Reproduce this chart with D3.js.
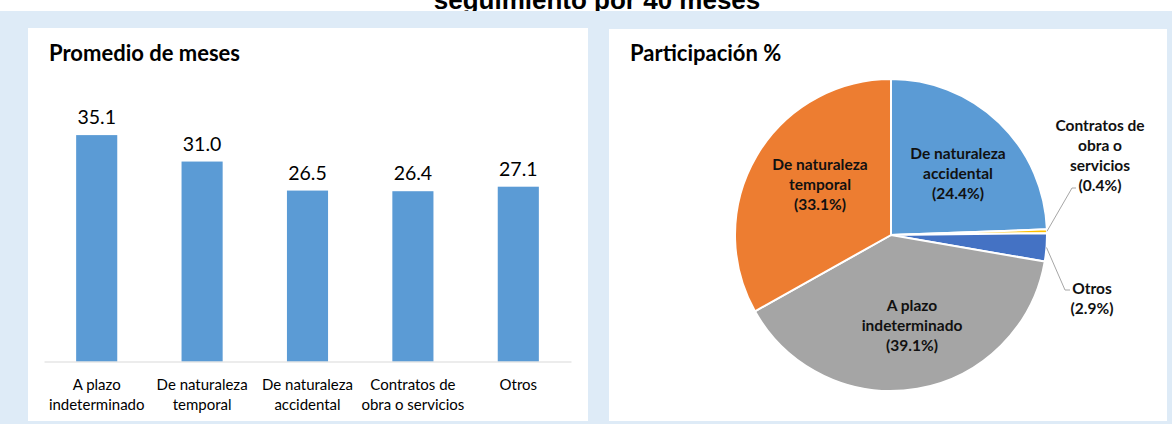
<!DOCTYPE html>
<html>
<head>
<meta charset="utf-8">
<script src="https://cdn.jsdelivr.net/npm/d3@7"></script>
<style>
  html, body { margin: 0; padding: 0; background: #fff; }
  svg { display: block; }
  text { font-family: Lato, "Open Sans", sans-serif; fill: #000; }
</style>
</head>
<body>
<div id="chart"></div>
<script>
// ---- data ----
const categories = ['A plazo indeterminado', 'De naturaleza temporal', 'De naturaleza accidental', 'Contratos de obra o servicios', 'Otros']
const catLines = [['A plazo', 'indeterminado'], ['De naturaleza', 'temporal'], ['De naturaleza', 'accidental'], ['Contratos de', 'obra o servicios'], ['Otros']]
const meanMonths = [35.1, 31.0, 26.5, 26.4, 27.1]
const sharePct = [39.1, 33.1, 24.4, 0.4, 2.9]
const pieLines = [['A plazo', 'indeterminado'], ['De naturaleza', 'temporal'], ['De naturaleza', 'accidental'], ['Contratos de', 'obra o', 'servicios'], ['Otros']]
// slices go clockwise from 12 o'clock in this order (indexes into categories)
const pieOrder = [2, 3, 4, 0, 1]
const pieColors = ['#a5a5a5', '#ed7d31', '#5b9bd5', '#ffc000', '#4472c4']

const W = 1172, H = 424
const svg = d3.select('#chart').append('svg').attr('width', W).attr('height', H)

// cut-off figure title, partly hidden by the blue frame
svg.append('text')
    .attr('x', 597).attr('y', 9)
    .attr('text-anchor', 'middle')
    .style('font-family', '"Liberation Sans", Arial, sans-serif')
    .style('font-weight', 'bold')
    .style('font-size', '26px')
    .text('seguimiento por 40 meses')

svg.append('rect').attr('x', 0).attr('y', 11).attr('width', W).attr('height', H - 11).attr('fill', '#deebf7')
svg.append('rect').attr('x', 28).attr('y', 28).attr('width', 560).attr('height', 393).attr('fill', '#fff')
svg.append('rect').attr('x', 609).attr('y', 29).attr('width', 558).attr('height', 392).attr('fill', '#fff')

// ---------- bar chart ----------
let bar = svg.append('g')
bar.append('text')
    .attr('x', 49).attr('y', 61)
    .style('font-weight', 'bold').style('font-size', '22px')
    .text('Promedio de meses')

let x = d3.scaleBand()
    .domain(categories)
    .range([44, 571])
    .paddingInner(0.61)
    .paddingOuter(0.305)

let y = d3.scaleLinear()
    .domain([0, 40])
    .range([361.5, 103.5])

bar.selectAll('rect.bar')
    .data(meanMonths)
    .enter()
    .append('rect')
    .attr('class', 'bar')
    .attr('x', (d, i) => x(categories[i]))
    .attr('y', d => y(d))
    .attr('width', x.bandwidth())
    .attr('height', d => y(0) - y(d))
    .attr('fill', '#5b9bd5')

bar.selectAll('text.val')
    .data(meanMonths)
    .enter()
    .append('text')
    .attr('class', 'val')
    .attr('x', (d, i) => x(categories[i]) + x.bandwidth() / 2)
    .attr('y', d => y(d) - 11)
    .attr('text-anchor', 'middle')
    .style('font-size', '19.5px')
    .text(d => d.toFixed(1))

let xAxis = d3.axisBottom(x).tickSize(0).tickFormat('')
let xg = bar.append('g')
    .attr('transform', 'translate(0,' + y(0) + ')')
    .call(xAxis)
xg.select('.domain').attr('stroke', '#d9d9d9').attr('stroke-width', 1)

xg.selectAll('.tick').each(function(d, i) {
    let t = d3.select(this).append('text')
        .attr('text-anchor', 'middle')
        .attr('y', 28)
        .style('font-size', '15px')
        .style('fill', '#000')
    catLines[i].forEach((ln, k) => {
        t.append('tspan').attr('x', 0).attr('dy', k === 0 ? 0 : 20).text(ln)
    })
})

// ---------- pie chart ----------
let pieG = svg.append('g')
pieG.append('text')
    .attr('x', 630).attr('y', 61)
    .style('font-weight', 'bold').style('font-size', '22px')
    .text('Participación %')

let cx = 891, cy = 235, r = 156
let slices = d3.pie()
    .sort(null)
    .value(i => sharePct[i])(pieOrder)

let arc = d3.arc().innerRadius(0).outerRadius(r)
let pg = pieG.append('g').attr('transform', `translate(${cx},${cy})`)

pg.selectAll('path')
    .data(slices)
    .enter()
    .append('path')
    .attr('d', arc)
    .attr('fill', d => pieColors[d.data])
    .attr('stroke', '#fff')
    .attr('stroke-width', 2)

// label anchors (centre of first text line), relative to pie centre
const labelAt = { 0: [21, 70], 1: [-71, -71], 2: [67, -82], 3: [209, -110], 4: [201, 53] }

slices.forEach(s => {
    let i = s.data
    let lines = pieLines[i].concat(['(' + sharePct[i].toFixed(1) + '%)'])
    let [lx, ly] = labelAt[i]
    let t = pg.append('text')
        .attr('text-anchor', 'middle')
        .attr('y', ly + 5.5)
        .style('font-weight', 'bold')
        .style('font-size', '15.5px')
        .style('fill', '#111')
    lines.forEach((ln, k) => {
        t.append('tspan').attr('x', lx).attr('dy', k === 0 ? 0 : 20.3).text(ln)
    })
})

// leader lines for the two thin slices
const leader = { 3: [[181, -47], [185, -47]], 4: [[174, 55], [179, 55]] }
slices.forEach(s => {
    let i = s.data
    if (!leader[i]) return
    let a = (s.startAngle + s.endAngle) / 2
    let p0 = [r * Math.sin(a), -r * Math.cos(a)]
    pg.append('path')
        .attr('d', d3.line()([p0].concat(leader[i])))
        .attr('fill', 'none')
        .attr('stroke', '#a6a6a6')
        .attr('stroke-width', 1)
})
</script>
</body>
</html>
